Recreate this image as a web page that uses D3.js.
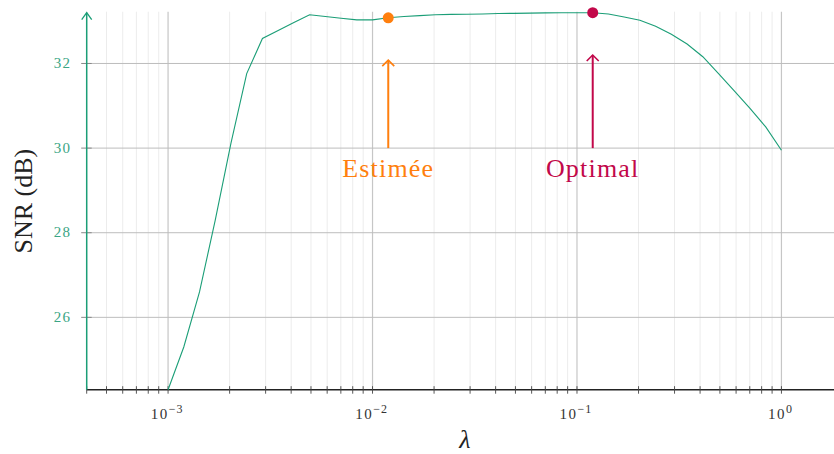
<!DOCTYPE html>
<html><head><meta charset="utf-8">
<script src="https://cdn.jsdelivr.net/npm/d3@7"></script>
<style>body{margin:0;background:#fff}svg{display:block}</style>
</head><body>
<svg id="c" width="834" height="454"></svg>
<script>
// Data
const lambdas = [0.001,0.0011938,0.0014251,0.0017013,0.0020309,0.0024245,0.0028943,0.0034551,0.0041246,0.0049239,
  0.005878,0.007017,0.0083768,0.01,0.011938,0.014251,0.017013,0.020309,0.024245,0.028943,
  0.034551,0.041246,0.049239,0.05878,0.07017,0.083768,0.1,0.11938,0.14251,0.17013,
  0.20309,0.24245,0.28943,0.34551,0.41246,0.49239,0.5878,0.7017,0.83768,1.0];
const snr = [24.29,25.30,26.60,28.30,30.12,31.76,32.59,32.78,32.97,33.15,
  33.11,33.07,33.03,33.03,33.08,33.11,33.13,33.15,33.16,33.165,
  33.17,33.18,33.185,33.19,33.195,33.198,33.199,33.20,33.17,33.10,
  33.02,32.88,32.69,32.46,32.16,31.76,31.35,30.94,30.50,29.95];
const yTicks = [26,28,30,32];
const xMajorTicks = [0.001,0.01,0.1,1];
const xTickExps = ["−3","−2","−1","0"];
const estimated = {label:"Estimée", lambda:0.011938, value:33.08};
const optimal = {label:"Optimal", lambda:0.11938, value:33.20};

const svg = d3.select("#c");
const X0=86.7, X1=843, Y0=389.7, Y1=12.7;
const x = d3.scaleLog().domain([4e-4,2]).range([X0,X1]);
const y = d3.scaleLinear().domain(d3.extent(snr)).range([Y0,Y1]);
const green="#1b9e77", orange="#ff7f0e", crimson="#c2084a";
const serif="'Liberation Serif','Times New Roman',serif";

// minor ticks
const minor=[];
for(let e=-4;e<=0;e++) for(let m=1;m<=9;m++){const v=m*Math.pow(10,e); if(v>=4e-4 && v<=2.0001) minor.push(v);}
const g=svg.append("g");
g.selectAll("line.mn").data(minor.filter(v=>!xMajorTicks.includes(v))).enter().append("line")
 .attr("x1",d=>x(d)).attr("x2",d=>x(d)).attr("y1",Y1-1).attr("y2",Y0)
 .attr("stroke","#ececec").attr("stroke-width",1);
g.selectAll("line.mj").data(xMajorTicks).enter().append("line")
 .attr("x1",d=>x(d)).attr("x2",d=>x(d)).attr("y1",Y1-1).attr("y2",Y0)
 .attr("stroke","#c6c6c6").attr("stroke-width",1.2);
g.selectAll("line.hy").data(yTicks).enter().append("line")
 .attr("x1",X0).attr("x2",834).attr("y1",d=>y(d)).attr("y2",d=>y(d))
 .attr("stroke","#bdbdbd").attr("stroke-width",1);

// y ticks
g.selectAll("line.yt").data(yTicks).enter().append("line")
 .attr("x1",X0-5.5).attr("x2",X0+5).attr("y1",d=>y(d)).attr("y2",d=>y(d))
 .attr("stroke","#888").attr("stroke-width",1);
g.selectAll("text.yl").data(yTicks).enter().append("text")
 .attr("x",X0-15.5).attr("y",d=>y(d)+4.5).attr("text-anchor","end")
 .attr("font-family",serif).attr("font-size",15).attr("letter-spacing",1.2)
 .attr("fill","#3aa585").text(d=>d);

// x axis
g.append("line").attr("x1",X0).attr("x2",X1).attr("y1",Y0).attr("y2",Y0)
 .attr("stroke","#222").attr("stroke-width",1.6);
g.selectAll("line.xt").data(minor).enter().append("line")
 .attr("x1",d=>x(d)).attr("x2",d=>x(d)).attr("y1",Y0-3.5).attr("y2",Y0+4)
 .attr("stroke","#444").attr("stroke-width",0.9);
g.append("path").attr("d",`M${X1-8},${Y0-5}L${X1},${Y0}L${X1-8},${Y0+5}`)
 .attr("fill","none").attr("stroke","#222").attr("stroke-width",1.3);
const xl=g.selectAll("text.xl").data(xMajorTicks).enter().append("text")
 .attr("x",d=>x(d)-1).attr("y",418.5).attr("text-anchor","middle")
 .attr("font-family",serif).attr("font-size",15).attr("fill","#333");
xl.append("tspan").attr("letter-spacing",1.5).text("10");
xl.append("tspan").attr("dy",-6).attr("font-size",12).attr("letter-spacing",1).text((d,i)=>xTickExps[i]);

// y axis
g.append("line").attr("x1",X0).attr("x2",X0).attr("y1",Y0).attr("y2",Y1)
 .attr("stroke",green).attr("stroke-width",1.5);
g.append("path").attr("d",`M${X0-5},${Y1+7}L${X0},${Y1}L${X0+5},${Y1+7}`)
 .attr("fill","none").attr("stroke",green).attr("stroke-width",1.3);

// curve
g.append("path").datum(lambdas.map((l,i)=>[l,snr[i]]))
 .attr("d",d3.line().x(d=>x(d[0])).y(d=>y(d[1])))
 .attr("fill","none").attr("stroke",green).attr("stroke-width",1.1);

// annotations
[[estimated,orange],[optimal,crimson]].forEach(([a,col])=>{
  const ax=x(a.lambda), top=y(a.value-1), bot=y(30);
  g.append("line").attr("x1",ax).attr("x2",ax).attr("y1",bot).attr("y2",top)
   .attr("stroke",col).attr("stroke-width",2);
  g.append("path").attr("d",`M${ax-6},${top+6}L${ax},${top}L${ax+6},${top+6}`)
   .attr("fill","none").attr("stroke",col).attr("stroke-width",1.6);
  g.append("circle").attr("cx",ax).attr("cy",y(a.value)).attr("r",5.5).attr("fill",col);
  g.append("text").attr("x",ax).attr("y",177).attr("text-anchor","middle")
   .attr("font-family",serif).attr("font-size",26).attr("letter-spacing",1.2)
   .attr("fill",col).text(a.label);
});

// axis labels
g.append("text").attr("transform",`translate(32,${(Y0+Y1)/2}) rotate(-90)`)
 .attr("text-anchor","middle").attr("font-family",serif).attr("font-size",26)
 .attr("fill","#222").text("SNR (dB)");
g.append("text").attr("x",(X0+X1)/2).attr("y",448).attr("text-anchor","middle")
 .attr("font-family",serif).attr("font-style","italic").attr("font-size",26)
 .attr("fill","#222").text("λ");
</script>
</body></html>
